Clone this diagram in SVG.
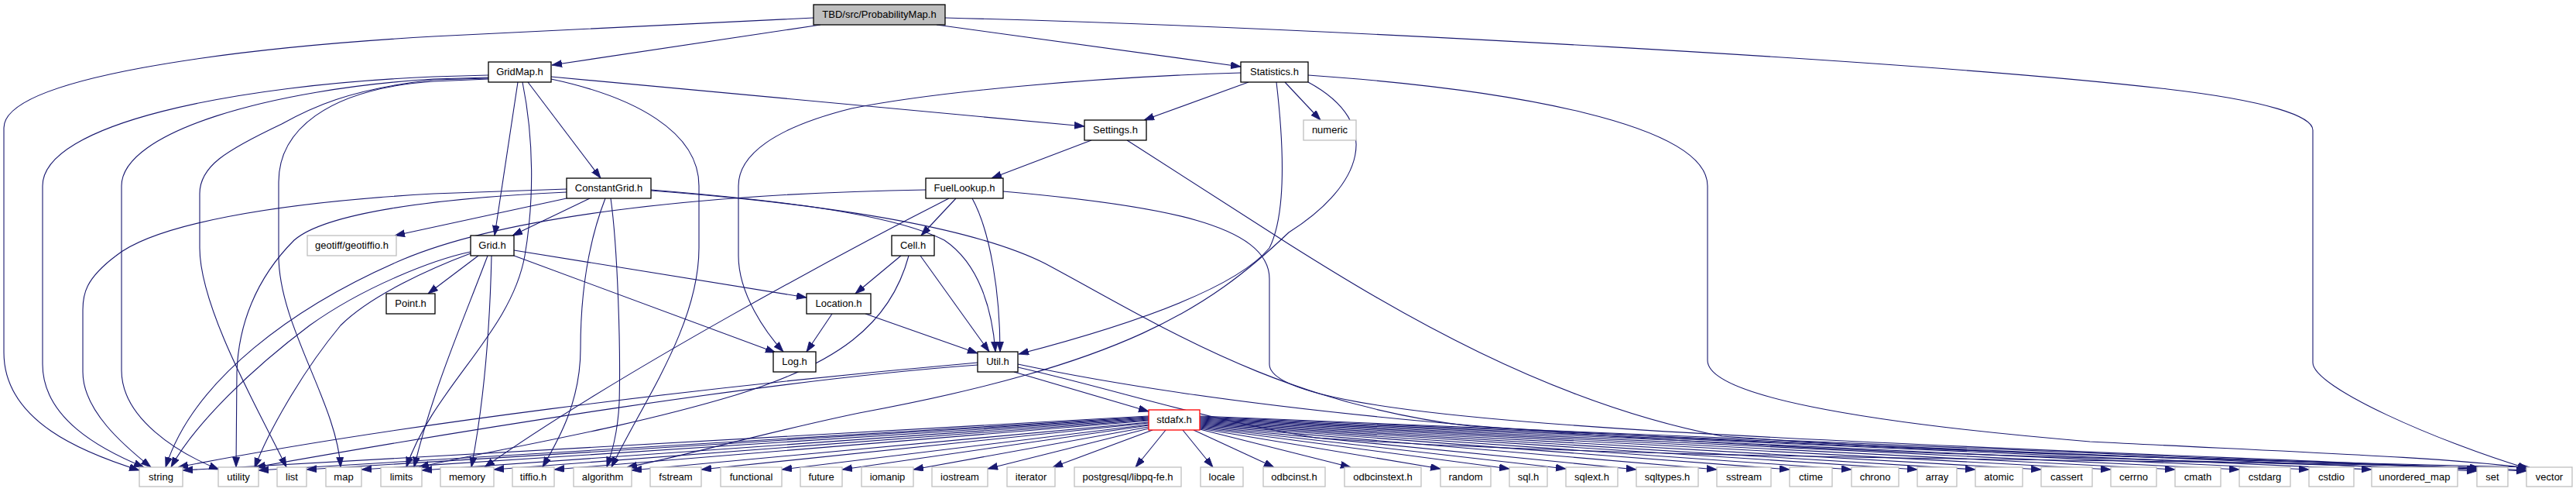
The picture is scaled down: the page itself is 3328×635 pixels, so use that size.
<svg xmlns="http://www.w3.org/2000/svg" width="3328" height="635" viewBox="0 0 3328 635">
<style>
.e{fill:none;stroke:#191970;stroke-width:1.1;marker-end:url(#a)}
.n rect{fill:#ffffff;stroke:#000000;stroke-width:1.3}
.x rect{fill:#ffffff;stroke:#bfbfbf;stroke-width:1.3}
.r rect{fill:#bfbfbf;stroke:#000000;stroke-width:1.3}
.s rect{fill:#ffffff;stroke:#ff0000;stroke-width:1.3}
text{font-family:"Liberation Sans",Arial,Helvetica,sans-serif;font-size:13px;text-anchor:middle;fill:#000000}
</style>
<defs>
<marker id="a" markerWidth="14" markerHeight="10" refX="13" refY="4.5" orient="auto" markerUnits="userSpaceOnUse"><path d="M0,0 L13,4.5 L0,9 z" fill="#191970" stroke="#191970" stroke-width="0.8"/></marker>
</defs>
<rect width="3328" height="635" fill="#ffffff"/>
<g id="edges">
<path class="e" d="M1060,32 L713,84"/>
<path class="e" d="M1210,32 L1603,86"/>
<path class="e" d="M1051,23 L560,47 C300,62 5,100 5,165 L5,455 C5,545 110,585 180,607"/>
<path class="e" d="M1221,23 C1700,35 2500,80 2800,115 C2930,130 2988,150 2988,168 L2988,468 C2988,500 3150,570 3266,605"/>
<path class="e" d="M682,106 L776,230"/>
<path class="e" d="M669,106 L639,304"/>
<path class="e" d="M712,99 L1401,163"/>
<path class="e" d="M631,97 L560,99 C300,110 55,160 55,240 L55,470 C55,540 130,580 186,603"/>
<path class="e" d="M631,100 L560,102 C350,115 157,170 157,240 L157,478 C157,540 230,585 283,606"/>
<path class="e" d="M631,101 L560,103 C450,115 400,140 364,160 C290,195 258,215 258,250 L258,320 C258,400 340,540 370,603"/>
<path class="e" d="M631,102 L560,105 C420,115 360,170 360,235 L360,330 C360,420 435,520 440,603"/>
<path class="e" d="M675,106 C690,180 690,260 678,330 C660,430 560,500 525,603"/>
<path class="e" d="M712,102 C820,125 903,170 903,240 L903,320 C903,420 830,520 790,603"/>
<path class="e" d="M1613,106 L1478,155"/>
<path class="e" d="M1660,106 L1706,155"/>
<path class="e" d="M1603,94 C1400,100 1200,120 1100,140 C1000,165 954,200 954,240 L954,330 C954,380 990,430 1012,454"/>
<path class="e" d="M1649,106 C1660,200 1660,280 1640,320 C1590,380 1420,430 1316,457"/>
<path class="e" d="M1690,106 C1790,160 1760,240 1665,300 C1560,400 1450,470 1110,533 C980,560 880,590 810,603"/>
<path class="e" d="M1690,97 C1950,115 2206,160 2206,240 L2206,465 C2206,510 2400,545 2700,570 C3000,585 3150,590 3266,604"/>
<path class="e" d="M1410,181 L1281,230"/>
<path class="e" d="M1456,181 L1665,315 C1800,400 2000,520 2225,563 C2600,590 3000,595 3204,604"/>
<path class="e" d="M1235,256 L1190,304"/>
<path class="e" d="M1256,256 C1280,300 1292,380 1292,454"/>
<path class="e" d="M1226,256 C1100,320 800,480 626,603"/>
<path class="e" d="M1196,245 C900,250 650,280 520,335 C380,395 250,490 214,603"/>
<path class="e" d="M1296,247 C1500,265 1640,290 1640,360 L1640,470 C1640,520 1900,545 2300,565 C2800,590 3050,595 3202,606"/>
<path class="e" d="M762,256 L662,304"/>
<path class="e" d="M732,256 L510,304"/>
<path class="e" d="M732,244 L560,250 C350,262 200,290 150,330 C110,360 107,380 107,400 L107,480 C107,530 160,575 195,603"/>
<path class="e" d="M732,248 C560,256 420,275 380,310 C330,360 308,420 306,480 L305,603"/>
<path class="e" d="M782,256 C765,300 750,360 750,450 C750,520 720,570 701,603"/>
<path class="e" d="M789,256 C798,320 802,450 800,520 C798,560 790,585 784,603"/>
<path class="e" d="M841,245 C1000,258 1150,275 1220,310 C1265,340 1282,400 1286,454"/>
<path class="e" d="M841,246 C1050,262 1250,290 1350,340 C1500,420 1650,520 1900,550 C2400,580 2900,595 3268,603"/>
<path class="e" d="M618,330 L553,379"/>
<path class="e" d="M664,323 L1042,384"/>
<path class="e" d="M664,330 L1002,455"/>
<path class="e" d="M635,330 C633,420 625,520 609,603"/>
<path class="e" d="M630,330 C600,410 560,500 535,603"/>
<path class="e" d="M608,325 C560,335 470,370 400,420 C320,480 250,550 221,603"/>
<path class="e" d="M608,327 C560,345 480,380 440,420 C390,480 345,560 329,604"/>
<path class="e" d="M1164,330 L1105,379"/>
<path class="e" d="M1189,330 L1278,454"/>
<path class="e" d="M1174,330 C1150,420 1080,470 950,510 C800,555 640,580 541,603"/>
<path class="e" d="M1075,405 L1042,454"/>
<path class="e" d="M1118,405 L1263,456"/>
<path class="e" d="M1310,480 L1484,531"/>
<path class="e" d="M1263,468 C900,500 500,550 230,603"/>
<path class="e" d="M1263,471 C1000,490 600,555 330,603"/>
<path class="e" d="M1315,470 C1600,530 2000,565 2500,585 C2800,595 3000,598 3200,606"/>
<path class="e" d="M1315,474 C1450,505 1550,540 1700,565 C2200,600 3000,590 3264,607"/>
<path class="e" d="M1484,537 L236,607"/>
<path class="e" d="M1484,538 L334,607"/>
<path class="e" d="M1484,539 L396,606"/>
<path class="e" d="M1484,540 L467,606"/>
<path class="e" d="M1484,541 L545,607"/>
<path class="e" d="M1484,542 L638,606"/>
<path class="e" d="M1484,543 L716,606"/>
<path class="e" d="M1484,545 L816,607"/>
<path class="e" d="M1484,546 L906,606"/>
<path class="e" d="M1484,548 L1010,606"/>
<path class="e" d="M1484,549 L1088,606"/>
<path class="e" d="M1484,551 L1180,606"/>
<path class="e" d="M1484,553 L1276,605"/>
<path class="e" d="M1489,555 L1360,603"/>
<path class="e" d="M1506,555 L1467,603"/>
<path class="e" d="M1528,555 L1567,603"/>
<path class="e" d="M1542,555 L1646,603"/>
<path class="e" d="M1550,554 L1745,603"/>
<path class="e" d="M1550,553 L1861,605"/>
<path class="e" d="M1550,552 L1950,605"/>
<path class="e" d="M1550,551 L2023,605"/>
<path class="e" d="M1550,550 L2114,606"/>
<path class="e" d="M1550,549 L2218,606"/>
<path class="e" d="M1550,548 L2312,606"/>
<path class="e" d="M1550,547 L2392,606"/>
<path class="e" d="M1550,546 L2477,606"/>
<path class="e" d="M1550,545 L2552,606"/>
<path class="e" d="M1550,544 L2637,606"/>
<path class="e" d="M1550,543 L2727,606"/>
<path class="e" d="M1550,542 L2810,606"/>
<path class="e" d="M1550,541 L2893,606"/>
<path class="e" d="M1550,540 L2983,606"/>
<path class="e" d="M1550,539 L3064,606"/>
<path class="e" d="M1550,538 L3200,608"/>
<path class="e" d="M1550,537 L3264,608"/>
</g>
<g id="node-root" class="r"><rect x="1051" y="6" width="170" height="26"/><text x="1136" y="23">TBD/src/ProbabilityMap.h</text></g>
<g id="node-GridMap" class="n"><rect x="631" y="80" width="81" height="26"/><text x="671.5" y="97">GridMap.h</text></g>
<g id="node-Statistics" class="n"><rect x="1603" y="80" width="87" height="26"/><text x="1646.5" y="97">Statistics.h</text></g>
<g id="node-numeric" class="x"><rect x="1684" y="155" width="68" height="26"/><text x="1718" y="172">numeric</text></g>
<g id="node-Settings" class="n"><rect x="1401" y="155" width="80" height="26"/><text x="1441" y="172">Settings.h</text></g>
<g id="node-ConstantGrid" class="n"><rect x="732" y="230" width="109" height="26"/><text x="786.5" y="247">ConstantGrid.h</text></g>
<g id="node-FuelLookup" class="n"><rect x="1196" y="230" width="100" height="26"/><text x="1246" y="247">FuelLookup.h</text></g>
<g id="node-geotiff" class="x"><rect x="397" y="304" width="115" height="26"/><text x="454.5" y="321">geotiff/geotiffio.h</text></g>
<g id="node-Grid" class="n"><rect x="608" y="304" width="56" height="26"/><text x="636" y="321">Grid.h</text></g>
<g id="node-Cell" class="n"><rect x="1152" y="304" width="55" height="26"/><text x="1179.5" y="321">Cell.h</text></g>
<g id="node-Point" class="n"><rect x="499" y="379" width="63" height="26"/><text x="530.5" y="396">Point.h</text></g>
<g id="node-Location" class="n"><rect x="1042" y="379" width="83" height="26"/><text x="1083.5" y="396">Location.h</text></g>
<g id="node-Log" class="n"><rect x="999" y="454" width="55" height="26"/><text x="1026.5" y="471">Log.h</text></g>
<g id="node-Util" class="n"><rect x="1263" y="454" width="52" height="26"/><text x="1289" y="471">Util.h</text></g>
<g id="node-stdafx" class="s"><rect x="1484" y="529" width="66" height="26"/><text x="1517" y="546">stdafx.h</text></g>
<g id="node-string" class="x"><rect x="180" y="603" width="56" height="25"/><text x="208" y="620">string</text></g>
<g id="node-utility" class="x"><rect x="282" y="603" width="52" height="25"/><text x="308" y="620">utility</text></g>
<g id="node-list" class="x"><rect x="358" y="603" width="38" height="25"/><text x="377" y="620">list</text></g>
<g id="node-map" class="x"><rect x="421" y="603" width="46" height="25"/><text x="444" y="620">map</text></g>
<g id="node-limits" class="x"><rect x="492" y="603" width="53" height="25"/><text x="518.5" y="620">limits</text></g>
<g id="node-memory" class="x"><rect x="569" y="603" width="69" height="25"/><text x="603.5" y="620">memory</text></g>
<g id="node-tiffio" class="x"><rect x="662" y="603" width="54" height="25"/><text x="689" y="620">tiffio.h</text></g>
<g id="node-algorithm" class="x"><rect x="741" y="603" width="75" height="25"/><text x="778.5" y="620">algorithm</text></g>
<g id="node-fstream" class="x"><rect x="840" y="603" width="66" height="25"/><text x="873" y="620">fstream</text></g>
<g id="node-functional" class="x"><rect x="931" y="603" width="79" height="25"/><text x="970.5" y="620">functional</text></g>
<g id="node-future" class="x"><rect x="1034" y="603" width="54" height="25"/><text x="1061" y="620">future</text></g>
<g id="node-iomanip" class="x"><rect x="1113" y="603" width="67" height="25"/><text x="1146.5" y="620">iomanip</text></g>
<g id="node-iostream" class="x"><rect x="1204" y="603" width="72" height="25"/><text x="1240" y="620">iostream</text></g>
<g id="node-iterator" class="x"><rect x="1301" y="603" width="62" height="25"/><text x="1332" y="620">iterator</text></g>
<g id="node-libpq" class="x"><rect x="1388" y="603" width="138" height="25"/><text x="1457" y="620">postgresql/libpq-fe.h</text></g>
<g id="node-locale" class="x"><rect x="1551" y="603" width="55" height="25"/><text x="1578.5" y="620">locale</text></g>
<g id="node-odbcinst" class="x"><rect x="1632" y="603" width="80" height="25"/><text x="1672" y="620">odbcinst.h</text></g>
<g id="node-odbcinstext" class="x"><rect x="1737" y="603" width="99" height="25"/><text x="1786.5" y="620">odbcinstext.h</text></g>
<g id="node-random" class="x"><rect x="1861" y="603" width="65" height="25"/><text x="1893.5" y="620">random</text></g>
<g id="node-sql" class="x"><rect x="1950" y="603" width="49" height="25"/><text x="1974.5" y="620">sql.h</text></g>
<g id="node-sqlext" class="x"><rect x="2023" y="603" width="67" height="25"/><text x="2056.5" y="620">sqlext.h</text></g>
<g id="node-sqltypes" class="x"><rect x="2114" y="603" width="80" height="25"/><text x="2154" y="620">sqltypes.h</text></g>
<g id="node-sstream" class="x"><rect x="2218" y="603" width="70" height="25"/><text x="2253" y="620">sstream</text></g>
<g id="node-ctime" class="x"><rect x="2312" y="603" width="55" height="25"/><text x="2339.5" y="620">ctime</text></g>
<g id="node-chrono" class="x"><rect x="2392" y="603" width="61" height="25"/><text x="2422.5" y="620">chrono</text></g>
<g id="node-array" class="x"><rect x="2477" y="603" width="51" height="25"/><text x="2502.5" y="620">array</text></g>
<g id="node-atomic" class="x"><rect x="2552" y="603" width="61" height="25"/><text x="2582.5" y="620">atomic</text></g>
<g id="node-cassert" class="x"><rect x="2637" y="603" width="66" height="25"/><text x="2670" y="620">cassert</text></g>
<g id="node-cerrno" class="x"><rect x="2727" y="603" width="59" height="25"/><text x="2756.5" y="620">cerrno</text></g>
<g id="node-cmath" class="x"><rect x="2810" y="603" width="59" height="25"/><text x="2839.5" y="620">cmath</text></g>
<g id="node-cstdarg" class="x"><rect x="2893" y="603" width="66" height="25"/><text x="2926" y="620">cstdarg</text></g>
<g id="node-cstdio" class="x"><rect x="2983" y="603" width="58" height="25"/><text x="3012" y="620">cstdio</text></g>
<g id="node-unordered_map" class="x"><rect x="3064" y="603" width="111" height="25"/><text x="3119.5" y="620">unordered_map</text></g>
<g id="node-set" class="x"><rect x="3200" y="603" width="40" height="25"/><text x="3220" y="620">set</text></g>
<g id="node-vector" class="x"><rect x="3264" y="603" width="59" height="25"/><text x="3293.5" y="620">vector</text></g>
</svg>
